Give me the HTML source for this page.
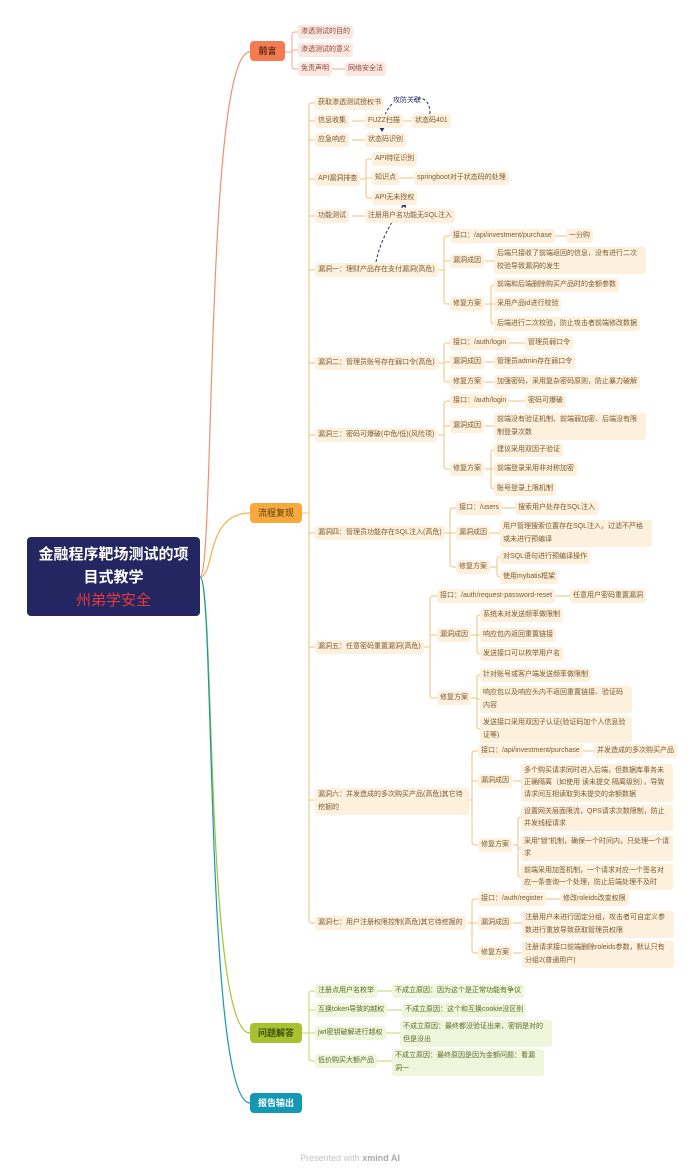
<!DOCTYPE html>
<html><head><meta charset="utf-8"><style>
body{margin:0;width:700px;height:1174px;background:#fff;position:relative;overflow:hidden;font-family:"Liberation Sans","Noto Sans CJK SC",sans-serif}
.n{position:absolute;font-size:7px;color:#7a5a32;background:#fdf1de;border-radius:3px;padding:0 3px;height:14px;line-height:14px;white-space:nowrap}
.t{height:auto;line-height:12.5px;padding:1px 3px;white-space:normal}
.p{background:#fde7e1;color:#8a4a3a}
.g{background:#f0f6dc;color:#5a6a2a}
.m{position:absolute;font-size:9px;font-weight:bold;border-radius:4px;height:20px;line-height:20px;text-align:center}
svg{position:absolute;left:0;top:0}
</style></head><body>
<svg id="s" width="700" height="1174"></svg>
<div style="position:absolute;left:27px;top:537px;width:173px;height:79px;background:#232660;border-radius:4px;text-align:center;color:#fff;font-size:15px;font-weight:bold;line-height:23px;padding-top:6px;box-sizing:border-box">金融程序靶场测试的项<br>目式教学<br><span style="color:#e8383d;font-weight:normal">州弟学安全</span></div>
<div class="m" style="left:250px;top:41px;width:35px;background:#f47a4f;color:#5a2a1a">前言</div>
<div class="m" style="left:250px;top:503px;width:52px;background:#f7a93b;color:#5a3a10;font-weight:normal">流程复现</div>
<div class="m" style="left:250px;top:1023px;width:52px;background:#a8c22f;color:#3a4a10">问题解答</div>
<div class="m" style="left:250px;top:1093px;width:52px;background:#1598b3;color:#fff">报告输出</div>

<div class="n p" style="left:298px;top:25px">渗透测试的目的</div>
<div class="n p" style="left:298px;top:43px">渗透测试的意义</div>
<div class="n p" style="left:298px;top:62px">免责声明</div>
<div class="n p" style="left:345px;top:62px">网络安全法</div>

<div class="n" style="left:315px;top:96px">获取渗透测试授权书</div>
<div class="n" style="left:315px;top:114px">信息收集</div>
<div class="n" style="left:365px;top:114px">FUZZ扫描</div>
<div class="n" style="left:412px;top:114px">状态码401</div>
<div class="n" style="left:315px;top:133px">应急响应</div>
<div class="n" style="left:365px;top:133px">状态码识别</div>
<div class="n" style="left:315px;top:172px">API漏洞排查</div>
<div class="n" style="left:372px;top:152px">API特征识别</div>
<div class="n" style="left:372px;top:171px">知识点</div>
<div class="n" style="left:414px;top:171px">springboot对于状态码的处理</div>
<div class="n" style="left:372px;top:191px">API无未授权</div>
<div class="n" style="left:315px;top:209px">功能测试</div>
<div class="n" style="left:365px;top:209px">注册用户名功能无SQL注入</div>

<div class="n" style="left:315px;top:263px">漏洞一：理财产品存在支付漏洞(高危)</div>
<div class="n" style="left:450px;top:229px">接口：/api/investment/purchase</div>
<div class="n" style="left:566px;top:229px">一分购</div>
<div class="n" style="left:450px;top:254px">漏洞成因</div>
<div class="n t" style="left:494px;top:247px;width:146px">后端只接收了前端返回的信息，没有进行二次校验导致漏洞的发生</div>
<div class="n" style="left:450px;top:297px">修复方案</div>
<div class="n" style="left:494px;top:278px">前端和后端删除购买产品时的金额参数</div>
<div class="n" style="left:494px;top:297px">采用产品id进行校验</div>
<div class="n" style="left:494px;top:317px">后端进行二次校验，防止攻击者前端修改数据</div>

<div class="n" style="left:315px;top:356px">漏洞二：管理员账号存在弱口令(高危)</div>
<div class="n" style="left:450px;top:336px">接口：/auth/login</div>
<div class="n" style="left:525px;top:336px">管理员弱口令</div>
<div class="n" style="left:450px;top:355px">漏洞成因</div>
<div class="n" style="left:494px;top:355px">管理员admin存在弱口令</div>
<div class="n" style="left:450px;top:375px">修复方案</div>
<div class="n" style="left:494px;top:375px">加强密码，采用复杂密码原则，防止暴力破解</div>

<div class="n" style="left:315px;top:428px">漏洞三：密码可爆破(中危/低)(风险项)</div>
<div class="n" style="left:450px;top:394px">接口：/auth/login</div>
<div class="n" style="left:525px;top:394px">密码可爆破</div>
<div class="n" style="left:450px;top:419px">漏洞成因</div>
<div class="n t" style="left:494px;top:413px;width:146px">前端没有验证机制、前端弱加密、后端没有限制登录次数</div>
<div class="n" style="left:450px;top:462px">修复方案</div>
<div class="n" style="left:494px;top:443px">建议采用双因子验证</div>
<div class="n" style="left:494px;top:462px">前端登录采用非对称加密</div>
<div class="n" style="left:494px;top:482px">账号登录上限机制</div>

<div class="n" style="left:315px;top:526px">漏洞四：管理员功能存在SQL注入(高危)</div>
<div class="n" style="left:456px;top:501px">接口：/users</div>
<div class="n" style="left:515px;top:501px">搜索用户处存在SQL注入</div>
<div class="n" style="left:456px;top:526px">漏洞成因</div>
<div class="n t" style="left:500px;top:520px;width:146px">用户管理搜索位置存在SQL注入，过滤不严格或未进行预编译</div>
<div class="n" style="left:456px;top:560px">修复方案</div>
<div class="n" style="left:500px;top:550px">对SQL语句进行预编译操作</div>
<div class="n" style="left:500px;top:570px">使用mybatis框架</div>

<div class="n" style="left:315px;top:640px">漏洞五：任意密码重置漏洞(高危)</div>
<div class="n" style="left:437px;top:589px">接口：/auth/request-password-reset</div>
<div class="n" style="left:570px;top:589px">任意用户密码重置漏洞</div>
<div class="n" style="left:437px;top:628px">漏洞成因</div>
<div class="n" style="left:480px;top:608px">系统未对发送频率做限制</div>
<div class="n" style="left:480px;top:628px">响应包内返回重置链接</div>
<div class="n" style="left:480px;top:647px">发送接口可以枚举用户名</div>
<div class="n" style="left:437px;top:691px">修复方案</div>
<div class="n" style="left:480px;top:668px">针对账号或客户端发送频率做限制</div>
<div class="n t" style="left:480px;top:686px;width:146px">响应包以及响应头内不返回重置链接、验证码内容</div>
<div class="n t" style="left:480px;top:716px;width:146px">发送接口采用双因子认证(验证码加个人信息验证等)</div>

<div class="n t" style="left:315px;top:788px;width:148px">漏洞六：并发造成的多次购买产品(高危)其它待挖掘的</div>
<div class="n" style="left:478px;top:744px">接口：/api/investment/purchase</div>
<div class="n" style="left:594px;top:744px">并发造成的多次购买产品</div>
<div class="n" style="left:478px;top:774px">漏洞成因</div>
<div class="n t" style="left:521px;top:764px;width:146px;line-height:12px">多个购买请求同时进入后端，但数据库事务未正确隔离（如使用 读未提交 隔离级别），导致请求间互相读取到未提交的余额数据</div>
<div class="n" style="left:478px;top:838px">修复方案</div>
<div class="n t" style="left:521px;top:805px;width:146px;line-height:12px">设置网关层面限流，QPS请求次数限制，防止并发线程请求</div>
<div class="n t" style="left:521px;top:835px;width:146px;line-height:12px">采用"锁"机制，确保一个时间内，只处理一个请求</div>
<div class="n t" style="left:521px;top:864px;width:146px;line-height:12px">前端采用加签机制，一个请求对应一个签名对应一条查询一个处理，防止后端处理不及时</div>

<div class="n" style="left:315px;top:916px">漏洞七：用户注册权限控制(高危)其它待挖掘的</div>
<div class="n" style="left:478px;top:892px">接口：/auth/register</div>
<div class="n" style="left:560px;top:892px">修改roleids改变权限</div>
<div class="n" style="left:478px;top:916px">漏洞成因</div>
<div class="n t" style="left:522px;top:911px;width:146px">注册用户未进行固定分组，攻击者可自定义参数进行重放导致获取管理员权限</div>
<div class="n" style="left:478px;top:946px">修复方案</div>
<div class="n t" style="left:522px;top:941px;width:146px">注册请求接口前端删除roleids参数，默认只有分组2(普通用户)</div>

<div class="n g" style="left:315px;top:984px">注册点用户名枚举</div>
<div class="n g" style="left:392px;top:984px">不成立原因：因为这个是正常功能有争议</div>
<div class="n g" style="left:315px;top:1003px">互换token导致的越权</div>
<div class="n g" style="left:402px;top:1003px">不成立原因：这个和互换cookie没区别</div>
<div class="n g" style="left:315px;top:1026px">jwt密钥破解进行越权</div>
<div class="n t g" style="left:400px;top:1020px;width:146px">不成立原因：最终都没验证出来，密钥是对的但是没出</div>
<div class="n g" style="left:315px;top:1054px">低价购买大额产品</div>
<div class="n t g" style="left:392px;top:1049px;width:146px">不成立原因：最终原因是因为金额问题：看漏洞一</div>

<div style="position:absolute;left:393px;top:95px;font-size:7px;color:#2a3070">攻防关联</div>
<div style="position:absolute;left:0;width:700px;top:1153px;text-align:center;font-size:9px;color:#c4c4c4">Presented with <b style="color:#aaa">xmind AI</b></div>

<script>
var s=document.getElementById('s'),h='';
function L(d,c,w,da){h+='<path d="'+d+'" fill="none" stroke="'+c+'" stroke-width="'+(w||1)+'"'+(da?' stroke-dasharray="3,2"':'')+'/>';}
function G(px,py,bx,cx,ys,c){
 if(ys.length==1){L('M'+px+' '+py+'H'+cx,c);return;}
 L('M'+px+' '+py+'H'+bx,c);
 var a=Math.min.apply(0,ys),b=Math.max.apply(0,ys);
 L('M'+cx+' '+a+'H'+(bx+3)+'Q'+bx+' '+a+' '+bx+' '+(a+3)+'V'+(b-3)+'Q'+bx+' '+b+' '+(bx+3)+' '+b+'H'+cx,c);
 ys.forEach(function(y){if(y!=a&&y!=b)L('M'+bx+' '+y+'H'+cx,c);});
}
function R(y,c){L('M200 577C215 577 205 '+y+' 250 '+y,c,1.2);}
R(52,'#f09070');R(513,'#f5b04a');R(1033,'#a8c22f');R(1103,'#1598b3');
var o='#f3c27a',p='#f0a890',g='#c4d66a';
G(285,52,292,298,[32,50,69],p);G(331,69,0,345,[69],p);
G(302,513,309,315,[103,121,140,179,216,270,363,435,533,647,800,923],o);
G(352,121,0,365,[121],o);G(397,121,0,412,[121],o);G(352,140,0,365,[140],o);
G(360,179,366,372,[159,178,198],o);G(398,178,0,414,[178],o);G(352,216,0,365,[216],o);
G(438,270,444,450,[236,261,304],o);G(552,236,0,566,[236],o);G(485,261,0,494,[261],o);G(485,304,491,494,[285,304,324],o);
G(438,363,444,450,[343,362,382],o);G(508,343,0,525,[343],o);G(485,362,0,494,[362],o);G(485,382,0,494,[382],o);
G(438,435,444,450,[401,426,469],o);G(508,401,0,525,[401],o);G(485,426,0,494,[426],o);G(485,469,491,494,[450,469,489],o);
G(442,533,450,456,[508,533,567],o);G(500,508,0,515,[508],o);G(490,533,0,500,[533],o);G(490,567,497,500,[557,577],o);
G(422,647,430,437,[596,635,698],o);G(554,596,0,570,[596],o);G(470,635,477,480,[615,635,654],o);G(470,698,477,480,[675,699,729],o);
G(466,800,472,478,[751,781,845],o);G(578,751,0,594,[751],o);G(513,781,0,521,[781],o);G(513,845,518,521,[817,848,877],o);
G(468,923,472,478,[899,923,953],o);G(545,899,0,560,[899],o);G(513,923,0,522,[923],o);G(513,953,0,522,[953],o);
G(302,1033,309,315,[991,1010,1033,1061],g);G(377,991,0,392,[991],g);G(386,1010,0,402,[1010],g);G(386,1033,0,400,[1033],g);G(377,1061,0,392,[1061],g);
L('M430 114C430 98 420 96 414 100',"#2a3070",1,1);
L('M392 104C386 110 383 118 382 128',"#2a3070",1,1);
h+='<path d="M379 127L382 132L385 127Z" fill="#2a3070"/>';
L('M376 262C380 240 395 215 404 205',"#2a3070",1,1);
h+='<path d="M401 205L406 202L406 208Z" fill="#2a3070"/>';
s.innerHTML=h;
</script>
</body></html>
